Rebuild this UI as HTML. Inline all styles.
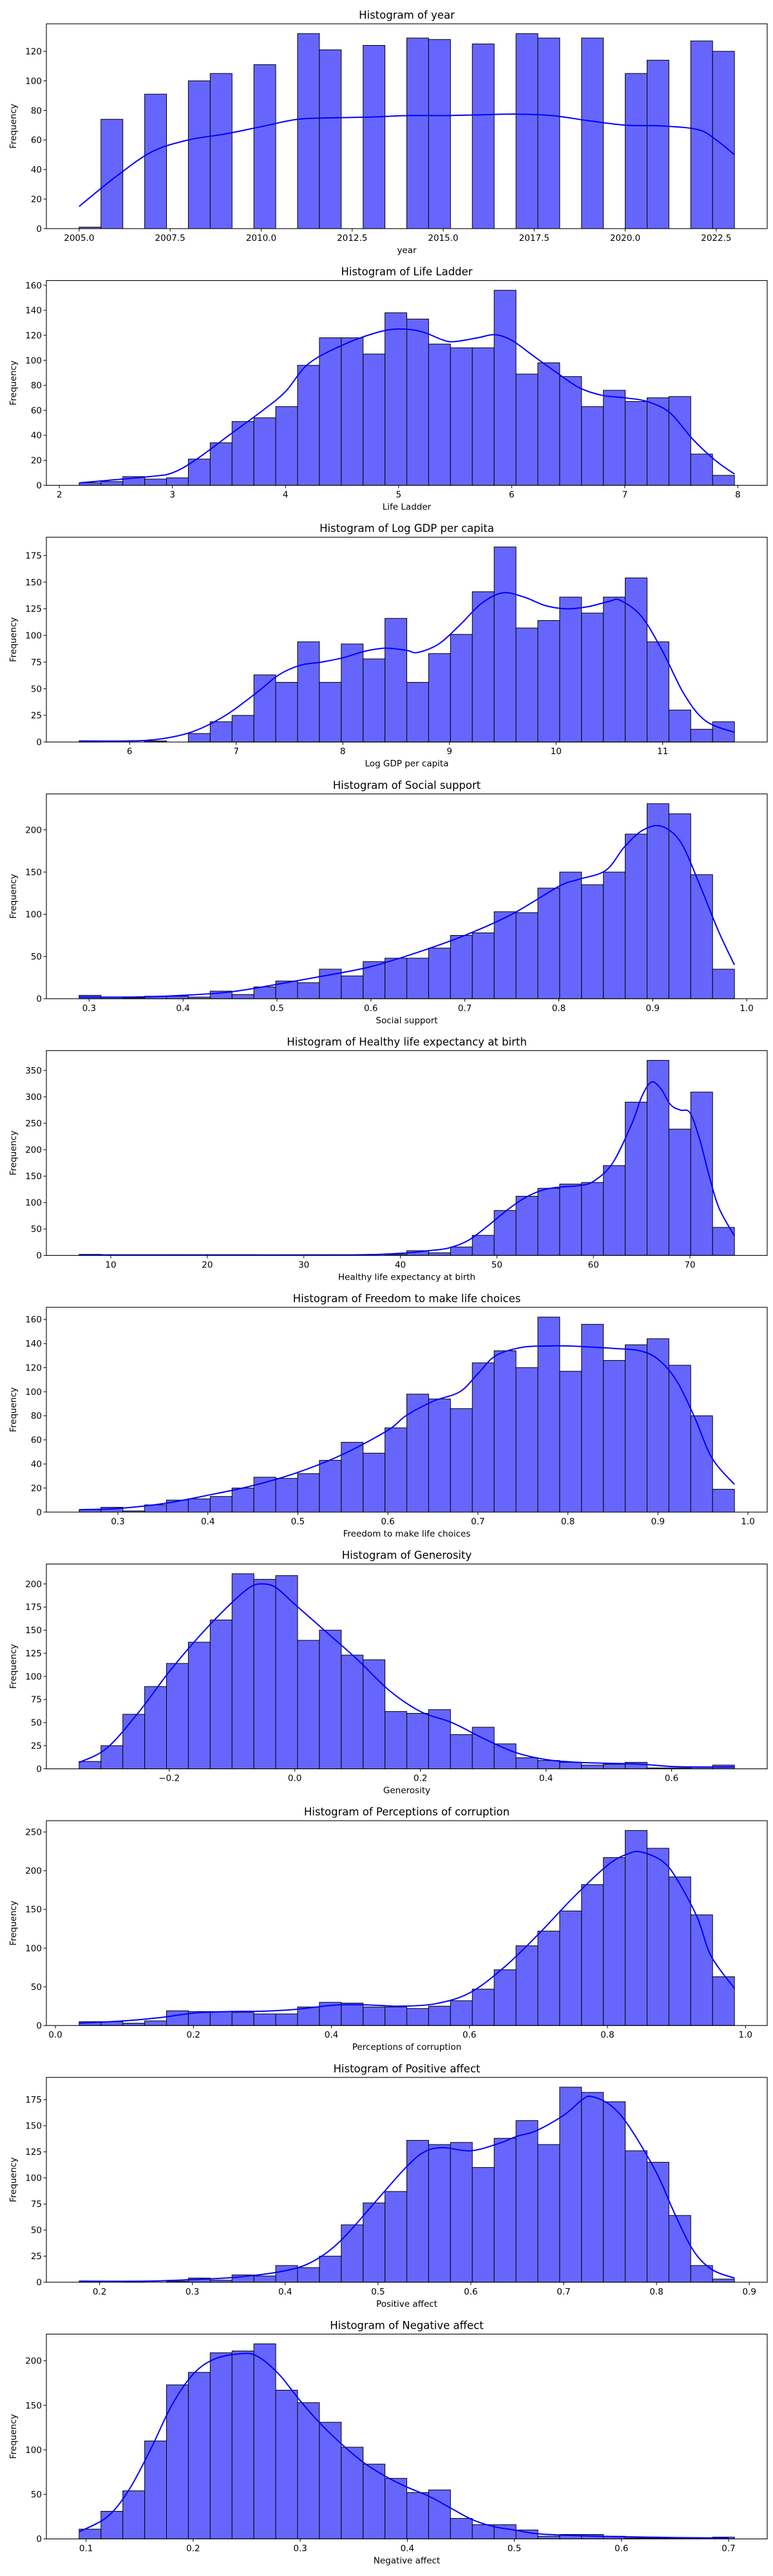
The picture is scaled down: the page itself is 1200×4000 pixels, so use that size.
<!DOCTYPE html>
<html>
<head>
<meta charset="utf-8">
<style>
html,body{margin:0;padding:0;background:#fff;}
svg{display:block;}
text{font-family:"DejaVu Sans","Liberation Sans",sans-serif;fill:#000;}
</style>
</head>
<body>
<svg id="chart" width="1200" height="4000" viewBox="0 0 1200 4000" xmlns="http://www.w3.org/2000/svg"></svg>
<script>
// ---------- data ----------
const yearCounts=[1,74,0,91,0,100,105,0,111,0,132,121,0,124,0,129,128,0,125,0,132,129,0,129,0,105,114,0,127,120];
const yearKdeX=[2005,2006,2007,2008,2009,2010,2011,2012,2013,2014,2015,2016,2017,2018,2019,2020,2021,2022,2022.5,2023];
const yearKdeY=[15,35,52,60,64,69,74,75,75.5,76.5,76.5,77,77.5,76.5,73,70,69.5,67,60,50];
const yearTicks=[2005,2007.5,2010,2012.5,2015,2017.5,2020,2022.5];
const yearTickLabels=["2005.0","2007.5","2010.0","2012.5","2015.0","2017.5","2020.0","2022.5"];

const ladderCounts=[2,3,7,5,6,21,34,51,54,63,96,118,118,105,138,133,113,110,110,156,89,98,87,63,76,67,70,71,25,8];
const ladderKdeX=[2.18,2.8,3.0,3.2,3.5,3.8,4.0,4.2,4.5,4.8,5.0,5.2,5.4,5.5,5.7,5.85,6.0,6.2,6.4,6.6,6.8,7.0,7.2,7.4,7.6,7.8,7.97];
const ladderKdeY=[2,7,10,20,40,60,75,97,112,122,125,123,116,115,118,120.5,116,103,90,78,72,70,67,58,37,20,9];
const ladderTicks=[2,3,4,5,6,7,8];
const ladderTickLabels=["2","3","4","5","6","7","8"];

const gdpCounts=[1,0,0,1,0,8,19,25,63,56,94,56,92,78,116,56,83,101,141,183,107,114,136,121,136,154,94,30,12,19];
const gdpKdeX=[5.527,6.0,6.3,6.6,6.9,7.2,7.4,7.6,7.8,8.0,8.2,8.4,8.6,8.7,8.9,9.1,9.3,9.5,9.7,9.9,10.1,10.3,10.5,10.6,10.8,11.0,11.2,11.4,11.673];
const gdpKdeY=[1,1,3,10,25,47,63,72,75,79,85,88,86,84,92,110,130,140,136,128,125,127,132,133,118,85,45,20,9];
const gdpTicks=[6,7,8,9,10,11];
const gdpTickLabels=["6","7","8","9","10","11"];

const socialCounts=[4,2,1,3,3,2,9,5,14,21,19,35,27,44,48,48,60,75,78,103,102,131,150,135,150,195,231,219,147,35];
const socialKdeX=[0.289,0.35,0.4,0.45,0.5,0.55,0.6,0.65,0.7,0.75,0.8,0.82,0.85,0.87,0.89,0.91,0.93,0.95,0.97,0.987];
const socialKdeY=[2,2,4,8,17,27,38,55,75,100,133,141,152,180,200,204,185,135,80,40];
const socialTicks=[0.3,0.4,0.5,0.6,0.7,0.8,0.9,1.0];
const socialTickLabels=["0.3","0.4","0.5","0.6","0.7","0.8","0.9","1.0"];

const healthCounts=[2,0,0,0,1,0,0,0,0,1,0,1,0,0,2,9,5,16,38,85,112,127,135,138,170,290,369,239,309,53];
const healthKdeX=[6.72,20,35,40,43,45,47,49,51,53,55,57,58.5,60,62,64,65,66,67,68,69,70,71,72,73,74.6];
const healthKdeY=[1,1,1,4,9,14,28,55,85,110,125,130,132,140,175,250,300,328,315,285,275,270,220,150,90,37];
const healthTicks=[10,20,30,40,50,60,70];
const healthTickLabels=["10","20","30","40","50","60","70"];

const freedomCounts=[2,4,1,6,10,11,13,20,29,28,32,43,58,49,70,98,94,86,124,134,120,162,117,156,126,139,144,122,80,19];
const freedomKdeX=[0.257,0.3,0.35,0.4,0.45,0.5,0.55,0.6,0.62,0.65,0.68,0.7,0.72,0.75,0.78,0.8,0.85,0.88,0.9,0.92,0.94,0.96,0.985];
const freedomKdeY=[2,3,7,14,22,33,48,68,80,92,100,115,130,137,138,138,136,134,127,110,80,45,23];
const freedomTicks=[0.3,0.4,0.5,0.6,0.7,0.8,0.9,1.0];
const freedomTickLabels=["0.3","0.4","0.5","0.6","0.7","0.8","0.9","1.0"];

const genCounts=[8,25,59,89,114,137,161,211,205,209,139,150,123,118,62,60,64,37,45,27,12,9,7,4,5,7,1,1,2,4];
const genKdeX=[-0.343,-0.3,-0.25,-0.2,-0.15,-0.1,-0.07,-0.05,-0.03,0,0.05,0.1,0.15,0.2,0.25,0.3,0.35,0.4,0.45,0.5,0.55,0.6,0.65,0.70];
const genKdeY=[7,22,60,105,145,180,197,200,196,178,148,118,85,62,50,33,18,10,7,6,5,2.5,2,2];
const genTicks=[-0.2,0,0.2,0.4,0.6];
const genTickLabels=["\u22120.2","0.0","0.2","0.4","0.6"];

const corrCounts=[5,5,3,6,19,18,18,17,15,15,24,30,29,24,24,22,25,32,47,72,103,122,148,182,217,252,229,192,143,63];
const corrKdeX=[0.034,0.1,0.15,0.2,0.25,0.3,0.35,0.4,0.43,0.47,0.5,0.55,0.6,0.65,0.7,0.75,0.8,0.83,0.85,0.88,0.9,0.93,0.95,0.984];
const corrKdeY=[3,6,10,16,18,18.5,21,26,27,26,25,28,42,75,118,165,207,222,224,212,190,140,90,48];
const corrTicks=[0,0.2,0.4,0.6,0.8,1.0];
const corrTickLabels=["0.0","0.2","0.4","0.6","0.8","1.0"];

const posCounts=[1,0,1,0,1,4,2,7,6,16,14,25,55,76,87,136,132,134,110,138,155,132,187,182,173,126,115,64,16,3];
const posKdeX=[0.178,0.25,0.3,0.35,0.4,0.43,0.46,0.5,0.53,0.55,0.57,0.6,0.63,0.65,0.67,0.7,0.72,0.73,0.75,0.77,0.8,0.82,0.84,0.86,0.884];
const posKdeY=[1,1,2.5,5,11,20,40,80,110,125,129,126,133,140,145,160,175,178,170,150,105,65,30,12,4];
const posTicks=[0.2,0.3,0.4,0.5,0.6,0.7,0.8,0.9];
const posTickLabels=["0.2","0.3","0.4","0.5","0.6","0.7","0.8","0.9"];

const negCounts=[11,31,54,110,173,187,209,211,219,167,153,131,103,84,68,52,55,23,16,16,10,3,5,5,3,1,1,1,1,2];
const negKdeX=[0.0935,0.12,0.14,0.16,0.18,0.2,0.22,0.245,0.26,0.28,0.3,0.32,0.34,0.36,0.38,0.4,0.42,0.44,0.46,0.48,0.5,0.52,0.55,0.6,0.65,0.7];
const negKdeY=[8,25,55,100,150,185,202,208,205,185,155,128,105,85,70,58,48,35,22,14,10,6,4,2.5,1.5,1];
const negTicks=[0.1,0.2,0.3,0.4,0.5,0.6,0.7];
const negTickLabels=["0.1","0.2","0.3","0.4","0.5","0.6","0.7"];

const panels=[
 {key:"year",title:"Histogram of year",xlabel:"year",counts:yearCounts,min:2005,max:2023,kx:yearKdeX,ky:yearKdeY,ticks:yearTicks,labels:yearTickLabels,ystep:20},
 {key:"life-ladder",title:"Histogram of Life Ladder",xlabel:"Life Ladder",counts:ladderCounts,min:2.175,max:7.97,kx:ladderKdeX,ky:ladderKdeY,ticks:ladderTicks,labels:ladderTickLabels,ystep:20},
 {key:"log-gdp",title:"Histogram of Log GDP per capita",xlabel:"Log GDP per capita",counts:gdpCounts,min:5.527,max:11.673,kx:gdpKdeX,ky:gdpKdeY,ticks:gdpTicks,labels:gdpTickLabels,ystep:25},
 {key:"social-support",title:"Histogram of Social support",xlabel:"Social support",counts:socialCounts,min:0.2894,max:0.987,kx:socialKdeX,ky:socialKdeY,ticks:socialTicks,labels:socialTickLabels,ystep:50},
 {key:"healthy-life",title:"Histogram of Healthy life expectancy at birth",xlabel:"Healthy life expectancy at birth",counts:healthCounts,min:6.72,max:74.61,kx:healthKdeX,ky:healthKdeY,ticks:healthTicks,labels:healthTickLabels,ystep:50},
 {key:"freedom",title:"Histogram of Freedom to make life choices",xlabel:"Freedom to make life choices",counts:freedomCounts,min:0.257,max:0.985,kx:freedomKdeX,ky:freedomKdeY,ticks:freedomTicks,labels:freedomTickLabels,ystep:20},
 {key:"generosity",title:"Histogram of Generosity",xlabel:"Generosity",counts:genCounts,min:-0.3434,max:0.70,kx:genKdeX,ky:genKdeY,ticks:genTicks,labels:genTickLabels,ystep:25},
 {key:"corruption",title:"Histogram of Perceptions of corruption",xlabel:"Perceptions of corruption",counts:corrCounts,min:0.0344,max:0.984,kx:corrKdeX,ky:corrKdeY,ticks:corrTicks,labels:corrTickLabels,ystep:50},
 {key:"positive-affect",title:"Histogram of Positive affect",xlabel:"Positive affect",counts:posCounts,min:0.178,max:0.884,kx:posKdeX,ky:posKdeY,ticks:posTicks,labels:posTickLabels,ystep:25},
 {key:"negative-affect",title:"Histogram of Negative affect",xlabel:"Negative affect",counts:negCounts,min:0.0935,max:0.7055,kx:negKdeX,ky:negKdeY,ticks:negTicks,labels:negTickLabels,ystep:50}
];

// ---------- drawing ----------
const NS="http://www.w3.org/2000/svg";
const svg=document.getElementById("chart");
const L=72,R=1191,AH=318,PITCH=398.6,TOP0=37;
function mk(tag,attrs,parent){const e=document.createElementNS(NS,tag);for(const k in attrs)e.setAttribute(k,attrs[k]);(parent||svg).appendChild(e);return e;}
function smoothPath(pts){
  let d="M"+pts[0][0].toFixed(2)+","+pts[0][1].toFixed(2);
  for(let i=0;i<pts.length-1;i++){
    const p0=pts[i-1]||pts[i],p1=pts[i],p2=pts[i+1],p3=pts[i+2]||p2;
    const c1x=p1[0]+(p2[0]-p0[0])/6,c1y=p1[1]+(p2[1]-p0[1])/6;
    const c2x=p2[0]-(p3[0]-p1[0])/6,c2y=p2[1]-(p3[1]-p1[1])/6;
    d+=" C"+c1x.toFixed(2)+","+c1y.toFixed(2)+" "+c2x.toFixed(2)+","+c2y.toFixed(2)+" "+p2[0].toFixed(2)+","+p2[1].toFixed(2);
  }
  return d;
}
panels.forEach((p,idx)=>{
  const top=TOP0+PITCH*idx, bot=top+AH;
  const g=mk("g",{});
  
  
  const r=p.max-p.min, x0=p.min-0.05*r, x1=p.max+0.05*r;
  const sx=v=>L+(v-x0)/(x1-x0)*(R-L);
  const ymax=1.05*Math.max(Math.max(...p.counts),Math.max(...p.ky));
  const sy=v=>bot-v/ymax*AH;
  // title
  const t=mk("text",{x:(L+R)/2,y:top-8,"text-anchor":"middle","font-size":"16.5"},g);
  t.textContent=p.title;
  
  
  // bars
  const bw=r/p.counts.length;
  p.counts.forEach((c,i)=>{
    if(c<=0)return;
    const xa=sx(p.min+i*bw), xb=sx(p.min+(i+1)*bw);
    const b=mk("rect",{x:xa.toFixed(2),y:sy(c).toFixed(2),width:(xb-xa).toFixed(2),height:(bot-sy(c)).toFixed(2),fill:"#6666ff",stroke:"#000","stroke-width":"1"},g);
    
    
  });
  // kde
  const pts=p.kx.map((x,i)=>[sx(x),sy(p.ky[i])]);
  const k=mk("path",{d:smoothPath(pts),fill:"none",stroke:"#0000ff","stroke-width":"2"},g);
  
  
  // axes frame
  const f=mk("rect",{x:L,y:top.toFixed(2),width:R-L,height:AH,fill:"none",stroke:"#000","stroke-width":"1.1"},g);
  
  
  // x ticks
  p.ticks.forEach((v,i)=>{
    const x=sx(v);
    mk("line",{x1:x,x2:x,y1:bot,y2:bot+4.5,stroke:"#000","stroke-width":"1"},g);
    const tl=mk("text",{x:x,y:bot+19,"text-anchor":"middle","font-size":"13.5"},g);
    tl.textContent=p.labels[i];
    
    
  });
  // y ticks
  for(let v=0;v<=ymax;v+=p.ystep){
    const y=sy(v);
    mk("line",{x1:L-4.5,x2:L,y1:y,y2:y,stroke:"#000","stroke-width":"1"},g);
    const yl=mk("text",{x:L-7,y:y+4.8,"text-anchor":"end","font-size":"13.5"},g);
    yl.textContent=String(v);
    
    
  }
  // axis labels
  const xl=mk("text",{x:(L+R)/2,y:bot+38,"text-anchor":"middle","font-size":"13.5"},g);
  xl.textContent=p.xlabel;
  
  
  const ycy=top+AH/2;
  const ya=mk("text",{x:25,y:ycy,"text-anchor":"middle","font-size":"13.5",transform:"rotate(-90 25 "+ycy.toFixed(2)+")"},g);
  ya.textContent="Frequency";
  
  
});
</script>
</body>
</html>
